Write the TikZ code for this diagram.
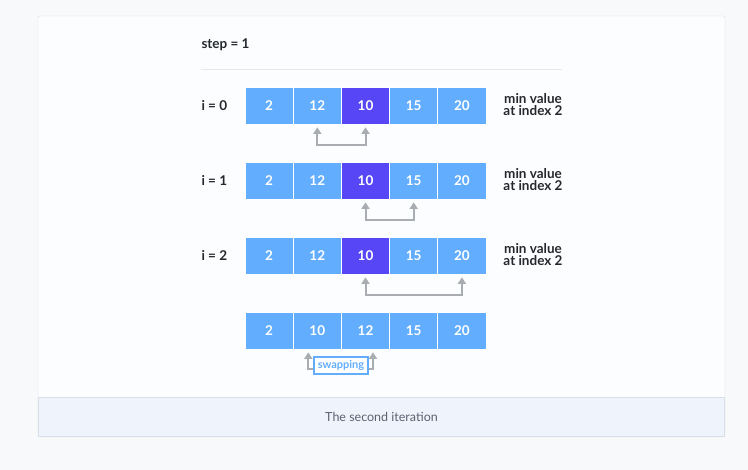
\documentclass[tikz,border=0pt]{standalone}
\usepackage{fontspec}
\setmainfont{Lato}
\usetikzlibrary{arrows.meta,positioning}
\definecolor{pagebg}{HTML}{F8F9FB}
\definecolor{framefill}{HTML}{FCFDFE}
\definecolor{framedraw}{HTML}{D9DFE7}
\definecolor{capfill}{HTML}{EFF4FC}
\definecolor{cellblue}{HTML}{62ADFE}
\definecolor{minblue}{HTML}{5746F5}
\definecolor{arrowgray}{HTML}{A9ADB1}
\definecolor{labeltext}{HTML}{25282D}
\definecolor{captext}{HTML}{5B6270}

\begin{document}
\begin{tikzpicture}[x=1pt,y=-1pt,
    every node/.append style={font=\fontsize{12}{12}\selectfont},
    cell/.style={draw=white,line width=.7pt,fill=cellblue,text=white,
                 minimum width=48.2pt,minimum height=37pt,inner sep=0,
                 font=\fontsize{13.5}{13.5}\selectfont\bfseries},
    mincell/.style={cell,fill=minblue},
    rowlabel/.style={anchor=west,text=labeltext,font=\fontsize{13.5}{13.5}\selectfont\bfseries},
    minlabel/.style={align=center,text=labeltext,inner sep=0,
                     font=\fontsize{13.5}{12}\selectfont\bfseries},
    garrow/.style={draw=arrowgray,line width=2pt,
                   {Triangle[width=8pt,length=6.5pt]}-{Triangle[width=8pt,length=6.5pt]}}]
    % page and frame
    \fill[pagebg] (0,0) rectangle (748,470);
    \draw[framedraw,fill=framefill,rounded corners=2pt] (38,16) rectangle (725,437);
    \draw[framedraw,fill=capfill] (38.4,397) -- (724.6,397) -- (724.6,436.6) -- (38.4,436.6) -- cycle;
    \node[text=captext,font=\fontsize{12.5}{12.5}\selectfont] (cap) at (381.5,417) {The second iteration};

    \node[rowlabel] (step) at (198,45) {step = 1};
    \coordinate (sepl) at (201,69);
    \coordinate (sepr) at (562,69);
    \draw[color=black!9,line width=.8pt] (sepl) -- (sepr);

    % i = 0
    \node[rowlabel] (i0) at (198,105.5) {i = 0};
    \node[cell] (r0c0) at (269.1,105.5) {2};
    \node[cell] (r0c1) at (317.3,105.5) {12};
    \node[mincell] (r0c2) at (365.5,105.5) {10};
    \node[cell] (r0c3) at (413.7,105.5) {15};
    \node[cell] (r0c4) at (461.9,105.5) {20};
    \node[minlabel] (m0) at (533,104.5) {min value\\at index 2};
    \draw[garrow] ([yshift=-3pt]r0c1.south) -- ++(0,18) -| ([yshift=-3pt]r0c2.south);

    % i = 1
    \node[rowlabel] (i1) at (198,180.5) {i = 1};
    \node[cell] (r1c0) at (269.1,180.5) {2};
    \node[cell] (r1c1) at (317.3,180.5) {12};
    \node[mincell] (r1c2) at (365.5,180.5) {10};
    \node[cell] (r1c3) at (413.7,180.5) {15};
    \node[cell] (r1c4) at (461.9,180.5) {20};
    \node[minlabel] (m1) at (533,179.5) {min value\\at index 2};
    \draw[garrow] ([yshift=-3pt]r1c2.south) -- ++(0,18) -| ([yshift=-3pt]r1c3.south);

    % i = 2
    \node[rowlabel] (i2) at (198,255.5) {i = 2};
    \node[cell] (r2c0) at (269.1,255.5) {2};
    \node[cell] (r2c1) at (317.3,255.5) {12};
    \node[mincell] (r2c2) at (365.5,255.5) {10};
    \node[cell] (r2c3) at (413.7,255.5) {15};
    \node[cell] (r2c4) at (461.9,255.5) {20};
    \node[minlabel] (m2) at (533,254.5) {min value\\at index 2};
    \draw[garrow] ([yshift=-3pt]r2c2.south) -- ++(0,18) -| ([yshift=-3pt]r2c4.south);

    % after swap
    \node[cell] (r3c0) at (269.1,330.5) {2};
    \node[cell] (r3c1) at (317.3,330.5) {10};
    \node[cell] (r3c2) at (365.5,330.5) {12};
    \node[cell] (r3c3) at (413.7,330.5) {15};
    \node[cell] (r3c4) at (461.9,330.5) {20};
    \node[draw=cellblue,line width=1.4pt,fill=white,text=cellblue,inner sep=1.5pt,
          minimum width=54pt,minimum height=17pt,
          font=\fontsize{11}{11}\selectfont\bfseries] (swap) at (341,365.5) {swapping};
    \draw[draw=arrowgray,line width=2pt,-{Triangle[width=8pt,length=6.5pt]}]
        ([yshift=-4pt]swap.west) -| ([xshift=-9pt,yshift=-3pt]r3c1.south);
    \draw[draw=arrowgray,line width=2pt,-{Triangle[width=8pt,length=6.5pt]}]
        ([yshift=-4pt]swap.east) -| ([xshift=7.5pt,yshift=-3pt]r3c2.south);
\end{tikzpicture}
\end{document}
